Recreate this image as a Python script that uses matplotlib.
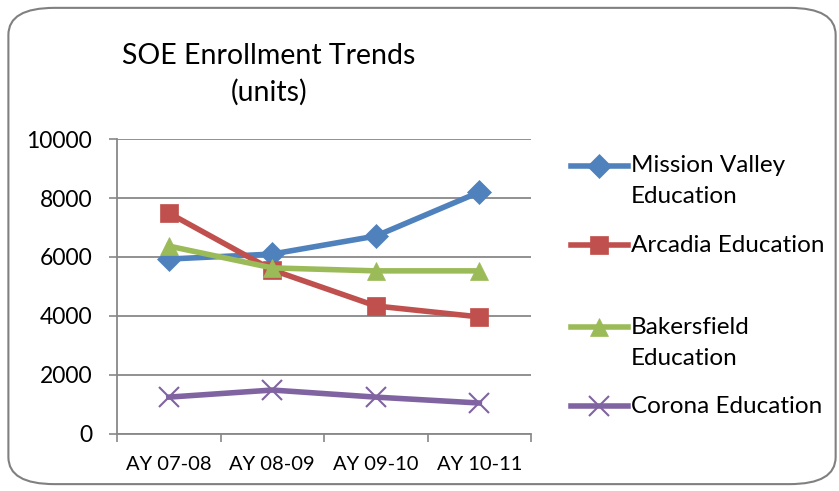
import matplotlib.pyplot as plt
from matplotlib.lines import Line2D
from matplotlib.patches import FancyBboxPatch

plt.rcParams['font.family'] = ['Lato', 'DejaVu Sans']

years = ['AY 07-08', 'AY 08-09', 'AY 09-10', 'AY 10-11']
mission_valley = [5930, 6100, 6710, 8200]
arcadia = [7490, 5560, 4340, 3970]
bakersfield = [6370, 5630, 5530, 5530]
corona = [1250, 1490, 1250, 1050]

series = [
    ('Mission Valley\nEducation', mission_valley, '#4F81BD', 'D', 12),
    ('Arcadia Education', arcadia, '#C0504D', 's', 13.5),
    ('Bakersfield\nEducation', bakersfield, '#9BBB59', '^', 13.5),
    ('Corona Education', corona, '#8064A2', 'x', 14),
]
# legend rows (figure fraction of first text line), Excel-style uneven spacing
legend_y = [0.662, 0.501, 0.334, 0.173]

fig = plt.figure(figsize=(8.39, 4.91), dpi=100)
fig.patches.append(FancyBboxPatch((0.010, 0.014), 0.986, 0.970,
                                  boxstyle='round,pad=0,rounding_size=0.055',
                                  transform=fig.transFigure, facecolor='none',
                                  edgecolor='#808080', linewidth=1.5))

ax = fig.add_axes([0.1395, 0.1161, 0.4935, 0.6008])
x = list(range(len(years)))
for name, vals, color, marker, ms in series:
    ax.plot(x, vals, color=color, linewidth=4, marker=marker, markersize=ms,
            markeredgewidth=1.5 if marker == 'x' else 0.5, markeredgecolor=color)

ax.set_xlim(-0.5, 3.5)
ax.set_ylim(0, 10000)
ax.set_yticks(range(0, 10001, 2000))
ax.set_xticks(x)
ax.set_xticklabels(years, fontsize=14.5)
ax.set_xticks([-0.5, 0.5, 1.5, 2.5, 3.5], minor=True)
ax.tick_params(axis='x', which='major', length=0, pad=16)
ax.tick_params(axis='x', which='minor', length=6, color='#888888', width=1.2)
ax.tick_params(axis='y', length=6, color='#888888', width=1.2, labelsize=16.5, pad=12)
ax.grid(axis='y', color='#888888', linewidth=1.3)
ax.set_axisbelow(True)
for s in ['top', 'right']:
    ax.spines[s].set_visible(False)
for s in ['left', 'bottom']:
    ax.spines[s].set_color('#888888')
    ax.spines[s].set_linewidth(1.3)

fig.text(0.3206, 0.849, 'SOE Enrollment Trends\n(units)', ha='center', va='center',
         fontsize=20.5, linespacing=1.45)

# legend drawn by hand so the marker sits on the first line of each label
line_step = 31 / 491
for (name, vals, color, marker, ms), ly in zip(series, legend_y):
    fig.add_artist(Line2D([0.681, 0.748], [ly, ly], transform=fig.transFigure,
                          color=color, linewidth=4))
    fig.add_artist(Line2D([0.7145], [ly], transform=fig.transFigure, color=color,
                          marker=marker, markersize=ms,
                          markeredgewidth=1.5 if marker == 'x' else 0.5,
                          markeredgecolor=color))
    for k, part in enumerate(name.split('\n')):
        fig.text(0.752, ly - k * line_step, part, ha='left', va='center', fontsize=17.5)

fig.savefig('out.png', dpi=100)
